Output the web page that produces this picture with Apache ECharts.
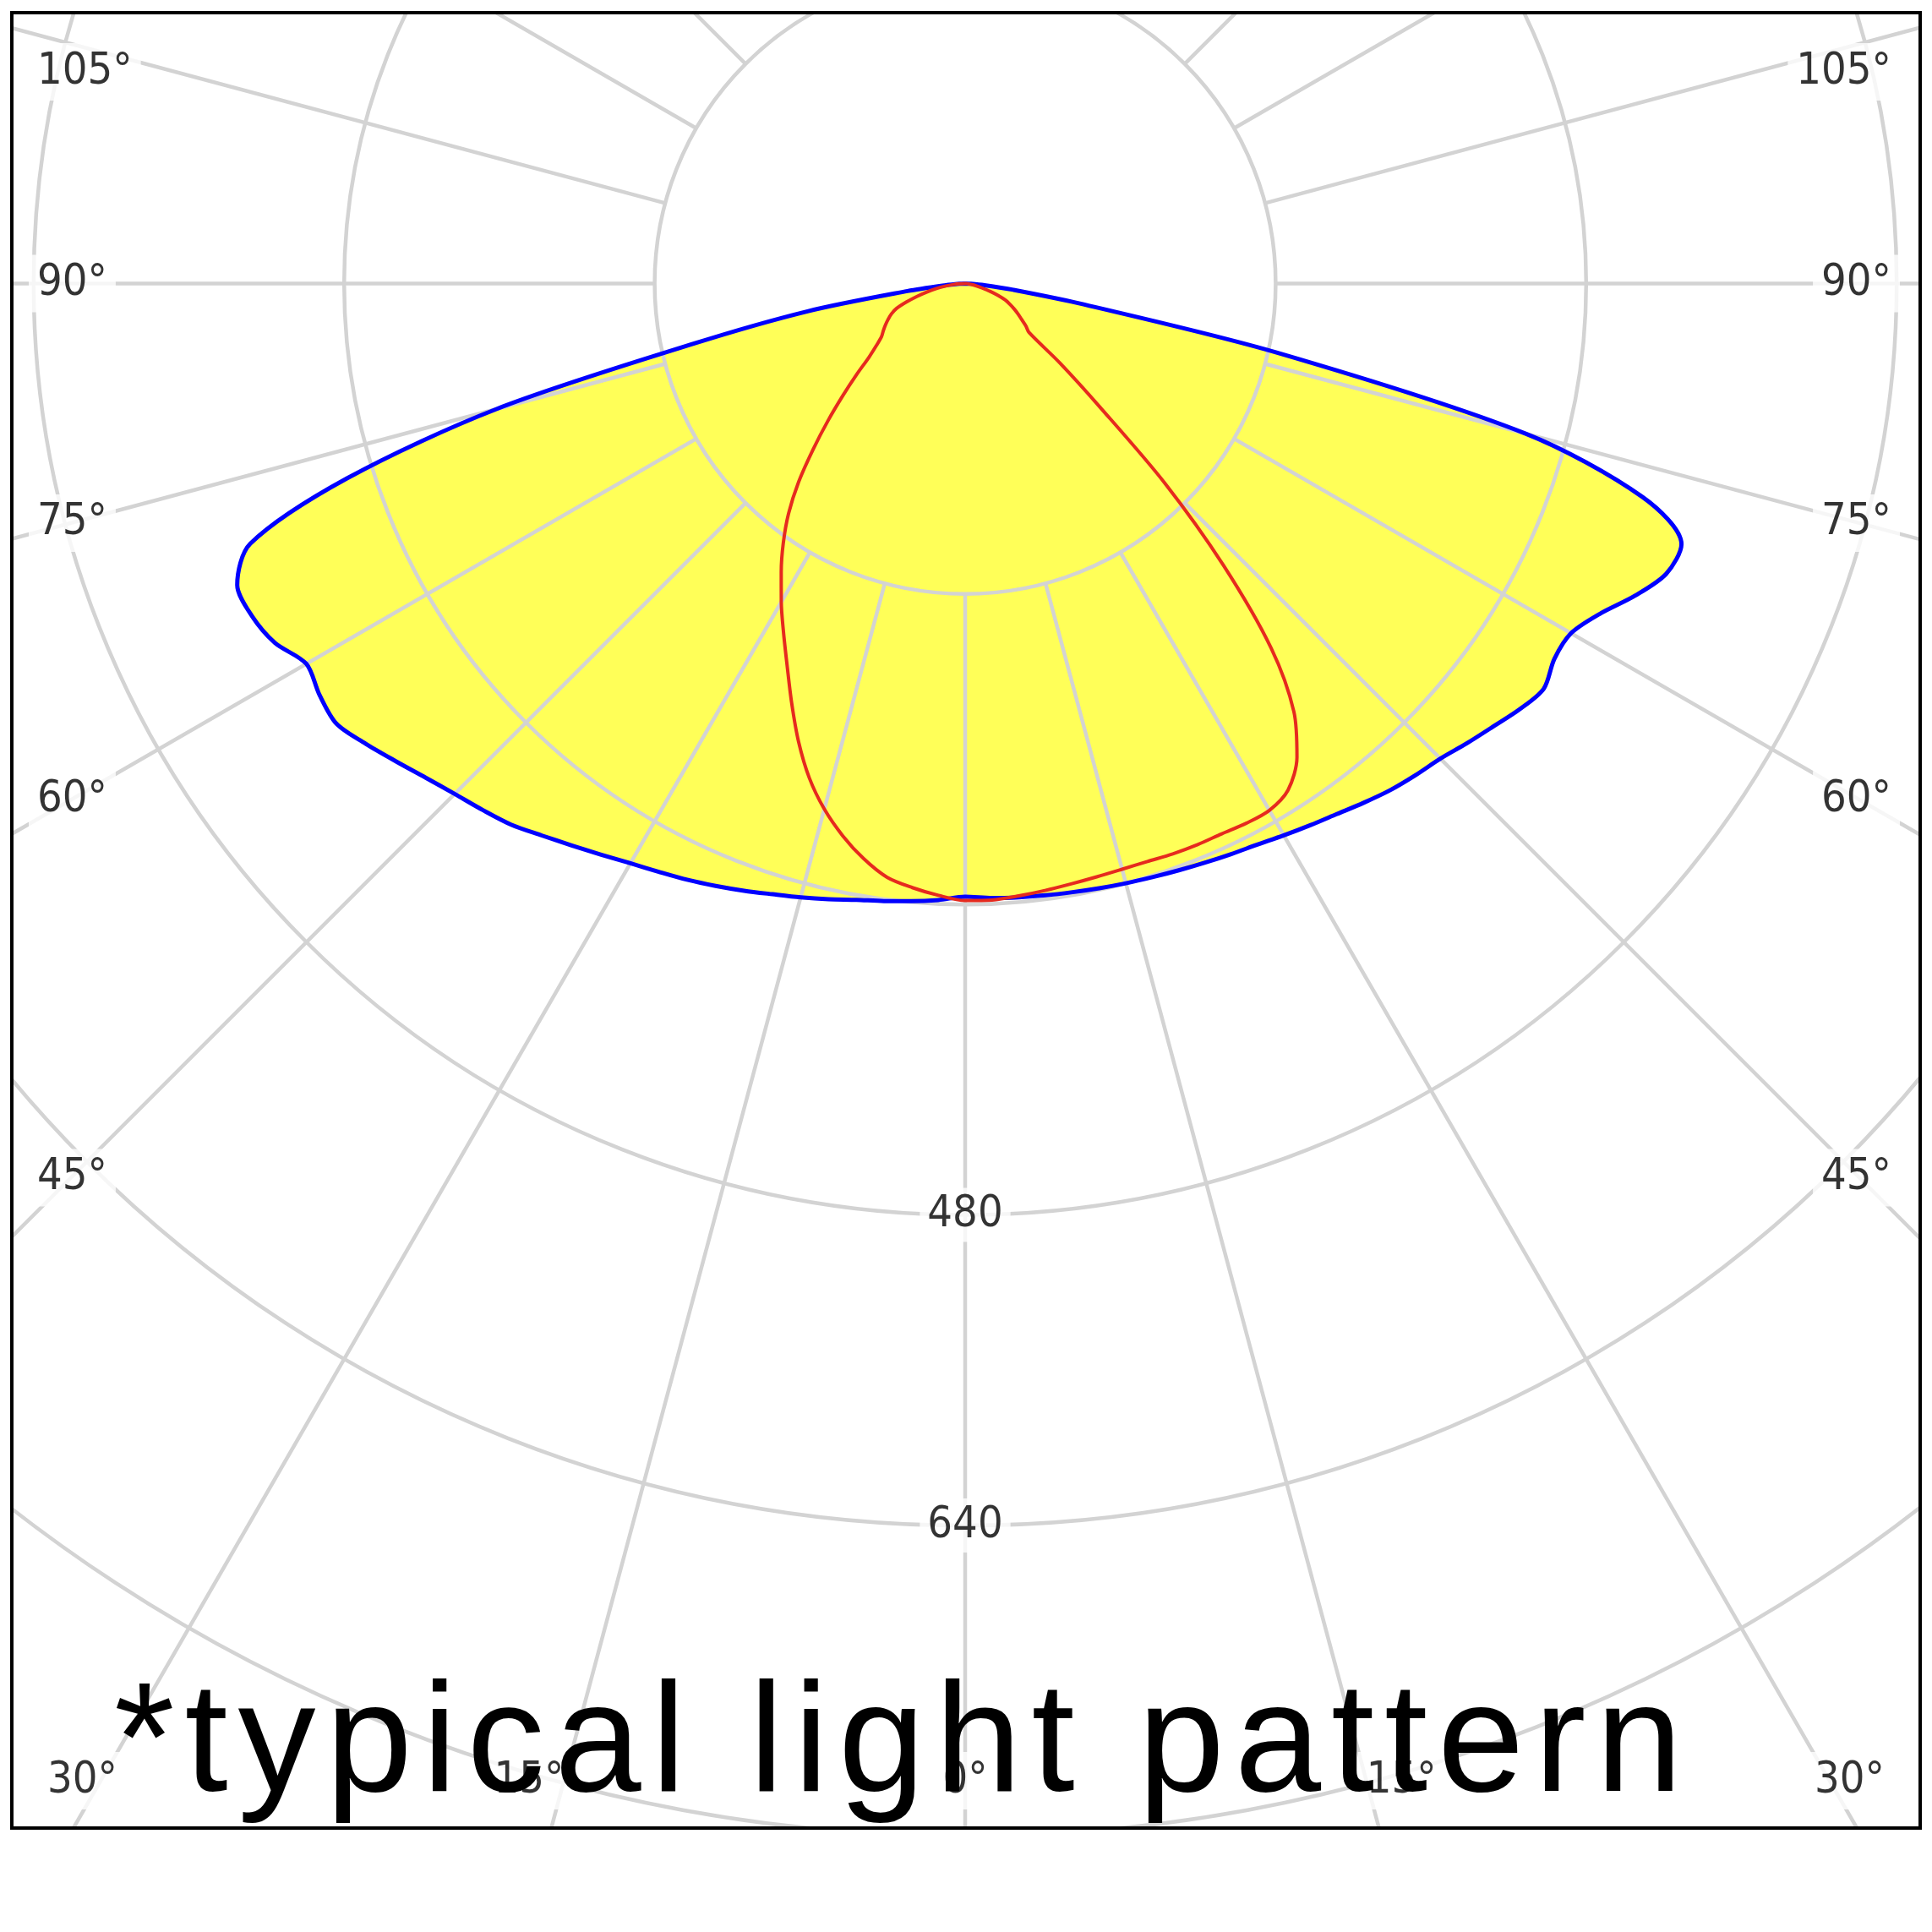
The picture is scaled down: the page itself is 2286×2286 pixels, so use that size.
<!DOCTYPE html>
<html><head><meta charset="utf-8">
<script src="https://cdn.jsdelivr.net/npm/echarts@6/dist/echarts.min.js"></script>
<style>
html,body{margin:0;padding:0;background:#fff;width:2286px;height:2286px;overflow:hidden}
#chart{position:absolute;left:12px;top:13px;width:2262px;height:2152px}
</style></head><body><div id="chart"></div>
<script>
// ---- data (angles in degrees from nadir, intensities in cd) ----
const polarAngles = [0,2.5,5,7.5,10,12.5,15,17.5,20,22.5,25,27.5,30,32.5,35,37.5,40,42.5,45,47.5,50,52.5,55,57.5,60,62.5,65,67.5,70,72.5,75,77.5,80,82.5,85,87.5,90];
// blue curve, left half and right half
const blueLeft  = [316,318,319.5,321,322.5,325,327.5,330,333,336,339,341.8,345,349,353.5,358.5,364,368,372,377,383,389.5,395.5,394.5,392,401,405.5,406,392,334,250,143,82,30,10,3,0];
const blueRight = [316,317,317.5,318,318.5,319.2,320,320.8,321.8,323,324.4,326,328.4,331,333.8,337.3,340.8,343.6,346.3,350.7,355.2,360.3,364,360,360.5,368.7,380.8,391,392.8,366,299,164,62,25,10,3,0];
// red curve, left half and right half
const redLeft   = [318,315.6,312.5,308.6,301,291.5,280.4,267.1,251.1,233.7,217.1,202.7,189.5,176.4,163.4,149.5,133.5,116,99.9,85.4,73,62.5,55.9,51.1,48.7,46.3,43.8,41.2,37.6,31.7,25.7,20,15,10,6,3,0];
const redRight  = [318,318,316.8,315.5,314.2,313.2,312.5,312.3,312.8,313,312.9,313.6,313.5,309.6,298.1,278.3,245.3,197,145.4,93.9,63.8,41.5,38.2,34.5,31.5,28.5,25.5,22.5,18,13.4,9,6,4,2,1,0.5,0];
// axes / tick labels
const ringStep = 160;
const ringMax = 960;
const radiusLabelTicks = [480, 640];
const angleLabelTicks = [0, 15, 30, 45, 60, 75, 90, 105];
const noteText = '*typical light pattern';

// ---- layout ----
const cx = 1130, cy = 322.4;          // polar centre (px in chart)
const pxPerUnit = 367.4 / ringStep;    // px per cd
const rOut = ringMax * pxPerUnit;
const rIn = ringStep * pxPerUnit;
const frame = {x: 2, y: 2, w: 2258, h: 2148};
const labelFont = "'DejaVu Sans Condensed','DejaVu Sans',sans-serif";
const labelSize = 52;

const mctx = document.createElement('canvas').getContext('2d');
mctx.font = labelSize + 'px ' + labelFont;
function textW(s) { return mctx.measureText(s).width; }

function loop(left, right) {
  const pts = [];
  for (let i = polarAngles.length - 1; i >= 0; i--) pts.push([left[i], -polarAngles[i]]);
  for (let i = 0; i < polarAngles.length; i++) pts.push([right[i], polarAngles[i]]);
  return pts;
}

function angleLabelData() {
  const items = [];
  const sideAnchorX = 72, bottomLabelY = 2094, topMin = 72, edgeMargin = 42;
  const frameL = frame.x, frameR = frame.x + frame.w, frameB = frame.y + frame.h, frameT = frame.y;
  angleLabelTicks.forEach(t => {
    const a = t * Math.PI / 180;
    const s = Math.sin(a), c = Math.cos(a);
    const name = t + '°';
    const toSide = s > 1e-9 ? (cx - frameL) / s : Infinity;
    const toBottom = c > 1e-9 ? (frameB - cy) / c : Infinity;
    const toTop = c < -1e-9 ? (cy - frameT) / (-c) : Infinity;
    if (toBottom <= toSide) {
      const rho = (bottomLabelY - cy) / c;
      const dx = rho * s;
      if (t === 0) {
        items.push({name, value: [rho / pxPerUnit, 0], label: {align: 'center'}});
        return;
      }
      const w = textW(name);
      let cR = cx + dx + w / 2;
      cR = Math.min(cR, frameR - edgeMargin - w / 2);
      let cL = cx - dx - w / 2;
      cL = Math.max(cL, frameL + edgeMargin + w / 2);
      items.push({name, value: [rho / pxPerUnit, -t], label: {align: 'center', offset: [cL - (cx - dx), 0]}});
      items.push({name, value: [rho / pxPerUnit, t], label: {align: 'center', offset: [cR - (cx + dx), 0]}});
    } else if (toTop < toSide) {
      return;
    } else {
      const rho = (cx - sideAnchorX) / s;
      const y = cy + rho * c;
      const oy = y < topMin ? topMin - y : 0;
      items.push({name, value: [rho / pxPerUnit, -t], label: {align: 'left', offset: [-50, oy]}});
      items.push({name, value: [rho / pxPerUnit, t], label: {align: 'right', offset: [48, oy]}});
    }
  });
  return items;
}

const labelStyle = {
  show: true, position: 'inside', formatter: '{b}', color: '#000',
  fontFamily: labelFont, fontSize: labelSize, verticalAlign: 'middle',
  backgroundColor: '#fff', padding: [8, 10]
};

const chart = echarts.init(document.getElementById('chart'), null, {renderer: 'canvas'});
const hiddenAxis = {axisLine: {show: false}, axisTick: {show: false}, axisLabel: {show: false}, splitLine: {show: false}};
const gridLine = {show: true, lineStyle: {color: '#d3d3d3', width: 4.5}};
const smoothK = 0.3;

chart.setOption({
  animation: false,
  backgroundColor: '#fff',
  polar: [
    {center: [cx, cy], radius: rOut},
    {center: [cx, cy], radius: [rIn, rOut]}
  ],
  angleAxis: [
    Object.assign({polarIndex: 0, type: 'value', min: -180, max: 180, interval: 15, startAngle: 90, clockwise: false, z: 2}, hiddenAxis),
    Object.assign({polarIndex: 1, type: 'value', min: -180, max: 180, interval: 15, startAngle: 90, clockwise: false, z: 2}, hiddenAxis, {splitLine: gridLine})
  ],
  radiusAxis: [
    Object.assign({polarIndex: 0, type: 'value', min: 0, max: ringMax, interval: ringStep, z: 2}, hiddenAxis, {splitLine: gridLine}),
    Object.assign({polarIndex: 1, type: 'value', min: ringStep, max: ringMax, interval: ringStep, z: 2}, hiddenAxis)
  ],
  series: [
    {
      name: 'fill', type: 'line', coordinateSystem: 'polar', polarIndex: 0, z: 1,
      data: loop(blueLeft, blueRight), smooth: smoothK, showSymbol: false, symbol: 'none', silent: true,
      lineStyle: {width: 0, opacity: 0}, areaStyle: {color: '#ffff58', opacity: 1}
    },
    {
      name: 'C90-C270', type: 'line', coordinateSystem: 'polar', polarIndex: 0, z: 3,
      data: loop(blueLeft, blueRight), smooth: smoothK, showSymbol: false, symbol: 'none', silent: true,
      lineStyle: {width: 5, color: '#0000ff', join: 'round'}
    },
    {
      name: 'C0-C180', type: 'line', coordinateSystem: 'polar', polarIndex: 0, z: 4,
      data: loop(redLeft, redRight), smooth: smoothK, showSymbol: false, symbol: 'none', silent: true,
      lineStyle: {width: 4, color: '#e62a1e', join: 'round'}
    },
    {
      name: 'angleLabels', type: 'scatter', coordinateSystem: 'polar', polarIndex: 0, z: 6,
      symbolSize: 0, itemStyle: {color: 'rgba(0,0,0,0)'}, silent: true, emphasis: {disabled: true},
      label: labelStyle, data: angleLabelData()
    },
    {
      name: 'radiusLabels', type: 'scatter', coordinateSystem: 'polar', polarIndex: 0, z: 6,
      symbolSize: 0, itemStyle: {color: 'rgba(0,0,0,0)'}, silent: true, emphasis: {disabled: true},
      label: Object.assign({}, labelStyle, {align: 'center', padding: [6, 9]}),
      data: radiusLabelTicks.map(v => ({name: String(v), value: [v, 0]}))
    }
  ],
  graphic: [
    {
      type: 'text', zlevel: 1, z: 20, x: 123, y: 2055, silent: true,
      style: {text: noteText, fontFamily: "'Liberation Sans',Arial,sans-serif", fontSize: 184, fill: '#000', align: 'left', verticalAlign: 'middle'}
    },
    {
      type: 'rect', z: 30, silent: true,
      shape: {x: frame.x, y: frame.y, width: frame.w, height: frame.h},
      style: {fill: 'none', stroke: '#000', lineWidth: 4}
    }
  ]
});

// the note is tracked out (letter-spaced) like the original artwork
(function () {
  const zr = chart.getZr();
  const painter = zr.painter;
  const layer = painter && painter.getLayer ? painter.getLayer(1) : null;
  if (layer && layer.ctx && ('letterSpacing' in layer.ctx)) {
    layer.ctx.letterSpacing = '11.9px';
    painter.refresh(true);
  }
})();
</script></body></html>
